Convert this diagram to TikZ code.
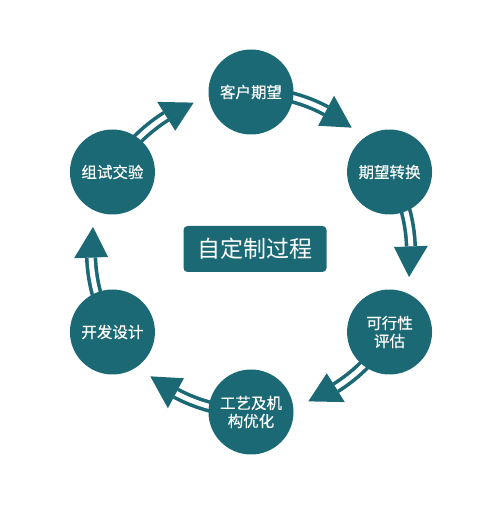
\documentclass[tikz,border=0pt]{standalone}
\usepackage{fontspec}
\usetikzlibrary{calc}
\newfontfamily\cjk[FakeBold=0.4]{Noto Sans CJK SC}
\newfontfamily\cjkplain{Noto Sans CJK SC}
\definecolor{teal1}{RGB}{28,105,118}
\tikzset{
  stage/.style={circle, fill=teal1, minimum size=85pt, inner sep=0pt, text=white, font=\cjk\fontsize{15.5}{18}\selectfont, align=center},
  shaft/.style={draw=teal1, line width=3.6pt, double=white, double distance=5pt},
  head/.style={fill=teal1},
  titlebox/.style={fill=teal1, rounded corners=4pt, text=white, minimum width=143pt, minimum height=46pt, font=\cjkplain\fontsize{23}{26}\selectfont}
}
\begin{document}
\begin{tikzpicture}[x=1pt,y=1pt]
\useasboundingbox (0,0) rectangle (500,507);
\coordinate (c) at (251,255);
% arrows (shaft + head) along the ring
\foreach \a in {90,30,-30,-90,-150,150}{
  \pgfmathsetmacro{\s}{\a-8}
  \pgfmathsetmacro{\b}{\a-28}
  \pgfmathsetmacro{\t}{\a-39}
  \draw[shaft] ($(c)+(\s:160)$) arc[start angle=\s, end angle=\b, radius=160];
  \fill[head] ($(c)+(\b:177)$) -- ($(c)+(\b:143)$) -- ($(c)+(\t:160)$) -- cycle;
}
\node[stage] (n1) at ($(c)+(90:160)$) {客户期望};
\node[stage] (n2) at ($(c)+(30:160)$) {期望转换};
\node[stage] (n3) at ($(c)+(-30:160)$) {可行性\\评估};
\node[stage] (n4) at ($(c)+(-90:160)$) {工艺及机\\构优化};
\node[stage] (n5) at ($(c)+(-150:160)$) {开发设计};
\node[stage] (n6) at ($(c)+(150:160)$) {组试交验};
\node[titlebox] (t) at (255,258) {自定制过程};
\end{tikzpicture}
\end{document}
